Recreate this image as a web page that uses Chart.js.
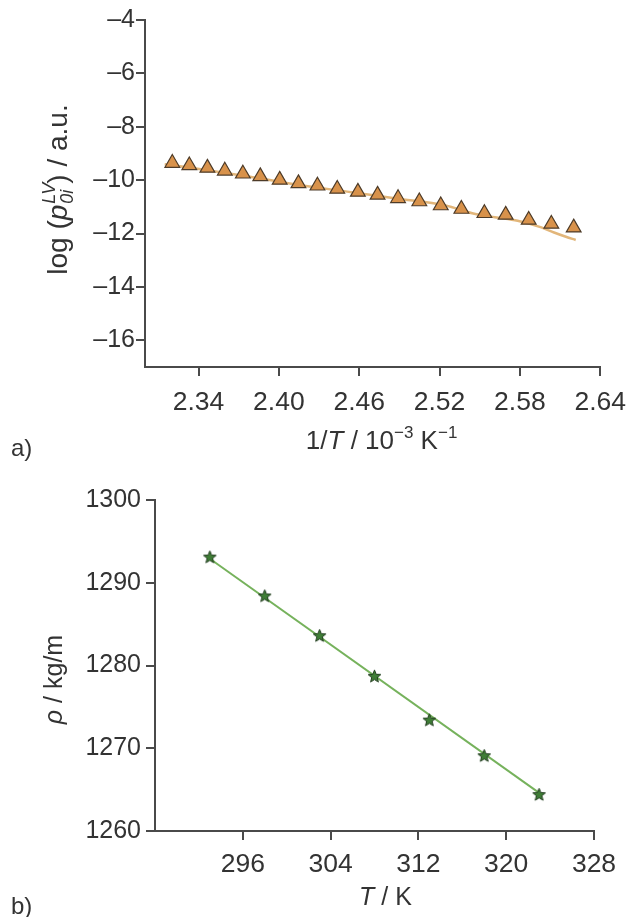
<!DOCTYPE html>
<html><head><meta charset="utf-8">
<script src="https://cdn.jsdelivr.net/npm/chart.js@4/dist/chart.umd.min.js"></script>
<style>
html,body{margin:0;padding:0;background:#fff;width:637px;height:917px;overflow:hidden;}
canvas{position:absolute;left:0;}
#ca{top:0}
#cb{top:470px}
</style></head><body>
<canvas id="ca" width="637" height="470"></canvas>
<canvas id="cb" width="637" height="447"></canvas>
<script>
// ---- Panel a) data ----
const invT = [2.3204, 2.3331, 2.3466, 2.3596, 2.3731, 2.3861, 2.4006, 2.4146, 2.4288, 2.4436, 2.4590, 2.4737, 2.4890, 2.5049, 2.5209, 2.5363, 2.5535, 2.5694, 2.5866, 2.6035, 2.6202];
const logP = [-9.36, -9.45, -9.54, -9.65, -9.76, -9.86, -9.99, -10.12, -10.21, -10.33, -10.44, -10.55, -10.68, -10.80, -10.95, -11.08, -11.24, -11.30, -11.49, -11.64, -11.78];
const fitInvT = [2.3147, 2.3405, 2.3773, 2.4141, 2.4509, 2.4877, 2.5245, 2.5444, 2.5613, 2.5783, 2.5960, 2.6055, 2.6144, 2.6217];
const fitLogP = [-9.40, -9.58, -9.86, -10.17, -10.43, -10.69, -10.95, -11.24, -11.39, -11.52, -11.77, -11.96, -12.12, -12.24];
const xTicksA = [2.34, 2.40, 2.46, 2.52, 2.58, 2.64];
const yTicksA = [-4, -6, -8, -10, -12, -14, -16];

// ---- Panel b) data ----
const tempK = [293, 298, 303, 308, 313, 318, 323];
const density = [1293.1, 1288.4, 1283.6, 1278.7, 1273.4, 1269.1, 1264.4];
const fitTempK = [293, 323];
const fitDensity = [1292.9, 1264.6];
const xTicksB = [296, 304, 312, 320, 328];
const yTicksB = [1260, 1270, 1280, 1290, 1300];

const FONT = '"Liberation Sans", Arial, sans-serif';
const TEXT = '#333333';
const AX = '#4a4a4a';

function fontStr(sz, it){ return (it ? 'italic ' : '') + sz + 'px ' + FONT; }

function drawRich(ctx, segs, x, y, rot){
  ctx.save();
  ctx.translate(x, y);
  if (rot) ctx.rotate(-Math.PI/2);
  ctx.textBaseline = 'alphabetic';
  ctx.textAlign = 'left';
  ctx.fillStyle = TEXT;
  let total = 0;
  segs.forEach(s => {
    if (s.stack) {
      ctx.font = fontStr(s.sz, true);
      s.w = Math.max(ctx.measureText(s.sup).width, ctx.measureText(s.sub).width);
    } else {
      ctx.font = fontStr(s.sz, s.it);
      s.w = ctx.measureText(s.t).width;
    }
    total += s.w;
  });
  let cx = -total/2;
  segs.forEach(s => {
    if (s.stack) {
      ctx.font = fontStr(s.sz, true);
      ctx.fillText(s.sup, cx + 1, s.supDy);
      ctx.fillText(s.sub, cx + 1, s.subDy);
    } else {
      ctx.font = fontStr(s.sz, s.it);
      ctx.fillText(s.t, cx, s.dy || 0);
    }
    cx += s.w;
  });
  ctx.restore();
}

function makeStar(){
  const c = document.createElement('canvas');
  c.width = 15; c.height = 15;
  const g = c.getContext('2d');
  const cx = 7.5, cy = 7.8, R = 6.6, r = 2.9;
  g.beginPath();
  for (let i = 0; i < 10; i++) {
    const a = -Math.PI/2 + i*Math.PI/5;
    const rr = i % 2 === 0 ? R : r;
    const px = cx + rr*Math.cos(a), py = cy + rr*Math.sin(a);
    if (i === 0) g.moveTo(px, py); else g.lineTo(px, py);
  }
  g.closePath();
  g.fillStyle = '#3f7d36';
  g.fill();
  g.lineWidth = 1;
  g.strokeStyle = '#1f3a1c';
  g.stroke();
  return c;
}

function scaleCfg(min, max, tickVals, fmt, fitProp, fitVal, pad, fsize){
  return {
    type: 'linear', min: min, max: max,
    afterBuildTicks: s => { s.ticks = tickVals.map(v => ({value: v})); },
    afterFit: s => { s[fitProp] = fitVal; },
    ticks: { font: {size: fsize, family: FONT}, color: TEXT, padding: pad, maxRotation: 0, autoSkip: false, callback: fmt },
    grid: { drawOnChartArea: false, drawTicks: true, tickLength: 9, color: AX, lineWidth: 2 },
    border: { display: true, color: AX, width: 2 }
  };
}

const labelsA = {
  id: 'labelsA',
  afterDraw(chart){
    const ctx = chart.ctx, ca = chart.chartArea;
    drawRich(ctx, [
      {t: '1/', sz: 26}, {t: 'T', sz: 26, it: true}, {t: ' / 10', sz: 26},
      {t: '\u22123', sz: 17, dy: -11}, {t: ' K', sz: 26}, {t: '\u22121', sz: 17, dy: -11}
    ], (ca.left + ca.right)/2 + 9, ca.bottom + 82, false);
    drawRich(ctx, [
      {t: 'log (', sz: 28}, {t: 'p', sz: 28, it: true},
      {stack: true, sup: 'LV', sub: '0i', sz: 18, supDy: -12, subDy: 6},
      {t: ') / a.u.', sz: 28}
    ], 67, (ca.top + ca.bottom)/2 - 4, true);
    ctx.save();
    ctx.font = fontStr(24, false); ctx.fillStyle = TEXT; ctx.textBaseline = 'alphabetic';
    ctx.fillText('a)', 11, 456);
    ctx.restore();
  }
};

const labelsB = {
  id: 'labelsB',
  afterDraw(chart){
    const ctx = chart.ctx, ca = chart.chartArea;
    drawRich(ctx, [ {t: 'T', sz: 25, it: true}, {t: ' / K', sz: 25} ], (ca.left + ca.right)/2 + 11, ca.bottom + 74, false);
    drawRich(ctx, [ {t: '\u03C1', sz: 25, it: true}, {t: ' / kg/m', sz: 25} ], 62, (ca.top + ca.bottom)/2 + 14, true);
    ctx.save();
    ctx.font = fontStr(24, false); ctx.fillStyle = TEXT; ctx.textBaseline = 'alphabetic';
    ctx.fillText('b)', 11, 444);
    ctx.restore();
  }
};

const commonOpts = {
  responsive: false, animation: false, devicePixelRatio: 1,
  plugins: { legend: {display: false}, tooltip: {enabled: false} }
};

new Chart(document.getElementById('ca'), {
  type: 'scatter',
  data: { datasets: [
    { data: invT.map((x, i) => ({x: x, y: logP[i]})), showLine: false,
      pointStyle: 'triangle', pointRadius: 8.5, pointBackgroundColor: '#d8924b', pointBorderColor: '#4d3b28', pointBorderWidth: 1.2 },
    { data: fitInvT.map((x, i) => ({x: x, y: fitLogP[i]})), showLine: true, pointRadius: 0,
      borderColor: '#e2b67a', borderWidth: 2.5, tension: 0.4, cubicInterpolationMode: 'monotone' }
  ]},
  options: Object.assign({}, commonOpts, {
    layout: { padding: {top: 20, right: 30, left: 0, bottom: 0} },
    scales: {
      x: scaleCfg(2.30, 2.64, xTicksA, v => v.toFixed(2), 'height', 103, 11, 26.5),
      y: scaleCfg(-17, -4, yTicksA, v => String(v).replace('-', '\u2013'), 'width', 145, 1, 25)
    }
  }),
  plugins: [labelsA]
});

const starImg = makeStar();
new Chart(document.getElementById('cb'), {
  type: 'scatter',
  data: { datasets: [
    { data: tempK.map((x, i) => ({x: x, y: density[i]})), showLine: false,
      pointStyle: starImg, pointRadius: 7 },
    { data: fitTempK.map((x, i) => ({x: x, y: fitDensity[i]})), showLine: true, pointRadius: 0,
      borderColor: '#76b25c', borderWidth: 2 }
  ]},
  options: Object.assign({}, commonOpts, {
    layout: { padding: {top: 30, right: 43, left: 0, bottom: 0} },
    scales: {
      x: scaleCfg(288, 328, xTicksB, v => String(v), 'height', 86, 9, 26.5),
      y: scaleCfg(1260, 1300, yTicksB, v => String(v), 'width', 155, 5, 25)
    }
  }),
  plugins: [labelsB]
});
</script>
</body></html>
